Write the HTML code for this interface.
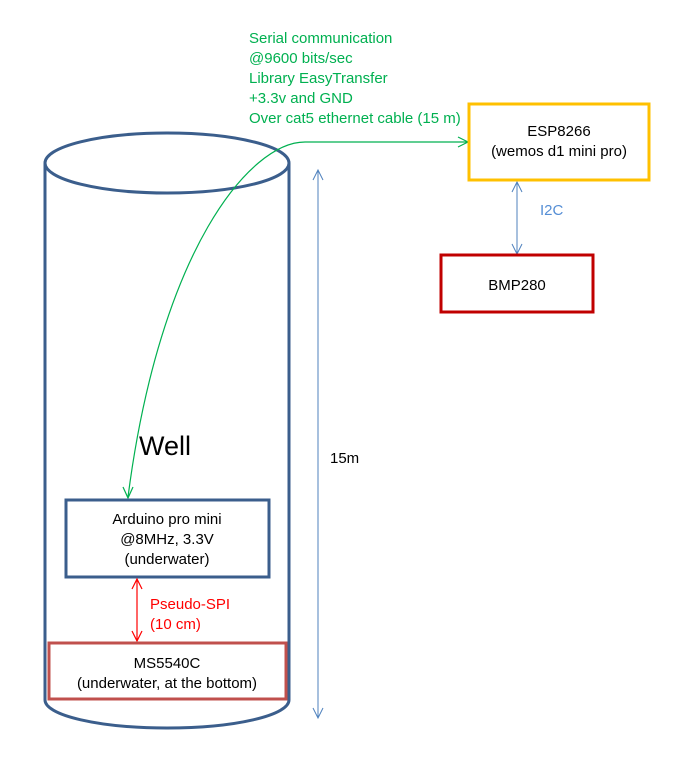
<!DOCTYPE html>
<html><head><meta charset="utf-8"><style>
body{margin:0;background:#fff;}
svg text{font-family:"Liberation Sans",sans-serif;}
</style></head><body>
<svg width="686" height="772" viewBox="0 0 686 772" xmlns="http://www.w3.org/2000/svg">
<g fill="#fff" stroke="#3B5E8C" stroke-width="3">
<path d="M45,163 L45,700 A122,28 0 0 0 289,700 L289,163"/>
<ellipse cx="167" cy="163" rx="122" ry="30"/>
</g>
<path d="M467,142 L305,142 C250,142 160,250 128,497" fill="none" stroke="#00B050" stroke-width="1.2"/>
<path d="M458,137 L468,142 L458,147" fill="none" stroke="#00B050" stroke-width="1.2"/>
<path d="M123,487 L128,498 L133,487" fill="none" stroke="#00B050" stroke-width="1.2"/>
<g font-size="15" fill="#00B050">
<text x="249" y="43">Serial communication</text>
<text x="249" y="63">@9600 bits/sec</text>
<text x="249" y="83">Library EasyTransfer</text>
<text x="249" y="103">+3.3v and GND</text>
<text x="249" y="123">Over cat5 ethernet cable (15 m)</text>
</g>
<g stroke="#4F81BD" stroke-width="1" fill="none">
<line x1="318" y1="170" x2="318" y2="718"/>
<path d="M313,180 L318,170 L323,180"/>
<path d="M313,708 L318,718 L323,708"/>
<line x1="517" y1="182" x2="517" y2="254"/>
<path d="M512,192 L517,182 L522,192"/>
<path d="M512,244 L517,254 L522,244"/>
</g>
<text x="330" y="463" font-size="15" fill="#000">15m</text>
<text x="540" y="215" font-size="15" fill="#558ED5">I2C</text>
<rect x="469" y="104" width="180" height="76" fill="#fff" stroke="#FFC000" stroke-width="3"/>
<text x="559" y="136" font-size="15" text-anchor="middle">ESP8266</text>
<text x="559" y="156" font-size="15" text-anchor="middle">(wemos d1 mini pro)</text>
<rect x="441" y="255" width="152" height="57" fill="#fff" stroke="#C00000" stroke-width="3"/>
<text x="517" y="290" font-size="15" text-anchor="middle">BMP280</text>
<text x="139" y="455" font-size="27">Well</text>
<rect x="66" y="500" width="203" height="77" fill="#fff" stroke="#3B5E8C" stroke-width="3"/>
<g font-size="15" text-anchor="middle">
<text x="167" y="524">Arduino pro mini</text>
<text x="167" y="544">@8MHz, 3.3V</text>
<text x="167" y="564">(underwater)</text>
</g>
<g stroke="#FF0000" stroke-width="1.2" fill="none">
<line x1="137" y1="579" x2="137" y2="641"/>
<path d="M132,589 L137,579 L142,589"/>
<path d="M132,631 L137,641 L142,631"/>
</g>
<text x="150" y="609" font-size="15" fill="#FF0000">Pseudo-SPI</text>
<text x="150" y="629" font-size="15" fill="#FF0000">(10 cm)</text>
<rect x="49" y="643" width="237" height="56" fill="#fff" stroke="#C0504D" stroke-width="3"/>
<g font-size="15" text-anchor="middle">
<text x="167" y="668">MS5540C</text>
<text x="167" y="688">(underwater, at the bottom)</text>
</g>
</svg>
</body></html>
